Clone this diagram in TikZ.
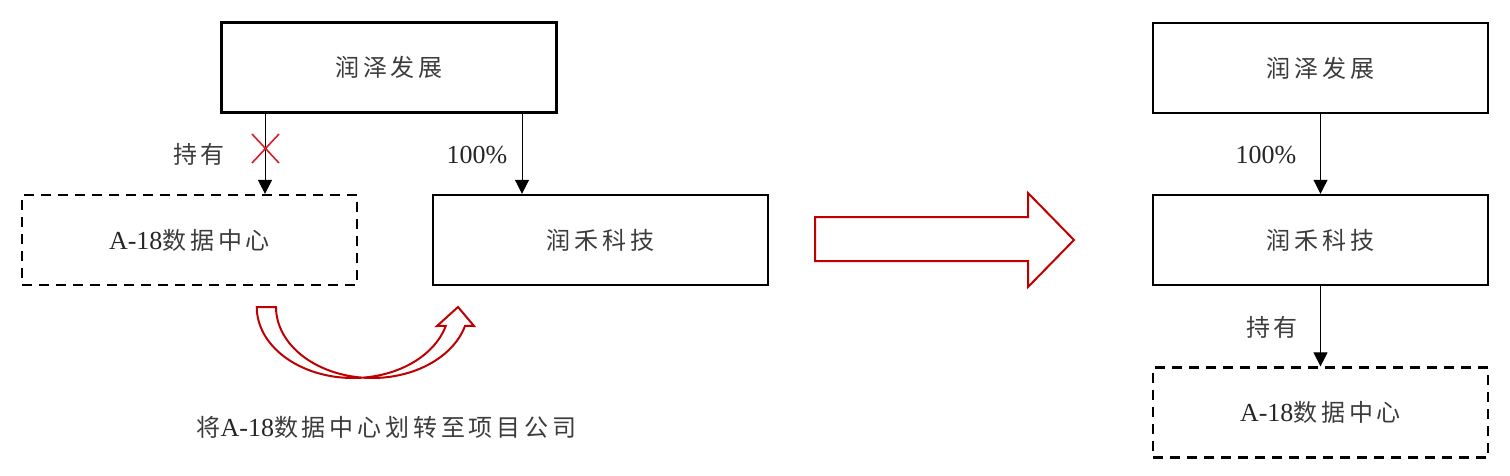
\documentclass[tikz,border=0pt]{standalone}
\usepackage{fontspec}
\setmainfont{Liberation Serif}
\newfontfamily\cjk[LetterSpace=16]{Noto Sans CJK SC}
\usetikzlibrary{arrows.meta}
\definecolor{arrred}{RGB}{192,0,0}
\definecolor{crossred}{RGB}{215,30,40}
\definecolor{txtgray}{RGB}{60,60,60}
\begin{document}
\begin{tikzpicture}[x=1pt,y=-1pt,
  box/.style={draw, line width=2.4pt, minimum width=335pt, minimum height=90pt, inner sep=0pt,
    font=\fontsize{24}{28}\selectfont\cjk, text=txtgray},
  dbox/.style={box, line width=2.2pt, dash pattern=on 10pt off 7pt},
  link/.style={line width=1pt, -{Triangle[width=14pt,length=14pt]}},
  lbl/.style={inner sep=0pt, font=\fontsize{24}{28}\selectfont\cjk, text=txtgray},
  num/.style={inner sep=0pt, font=\fontsize{26}{30}\selectfont, text=black!85},
  redshape/.style={draw=arrred, line width=2pt, line join=miter}]
\useasboundingbox (0,0) rectangle (1510,476);

% left group
\node[box] (ZL) at (389,67.5) {润泽发展};
\node[dbox] (AL) at (189.5,240) {{\rmfamily\fontsize{26}{30}\selectfont\color{black!85}A-18}数据中心};
\node[box] (RL) at (600.5,240) {润禾科技};
\coordinate (c1) at (265,0);
\coordinate (c2) at (522,0);
\draw[link] (ZL.south -| c1) -- (AL.north -| c1);
\draw[link] (ZL.south -| c2) -- (RL.north -| c2);
\node[lbl] (h1) at (199,154) {持有};
\node[num] (p1) at (477,155) {100\%};
\draw[crossred, line width=1.6pt] (252,134) -- (279,163) (252,163) -- (279,134);

% curved transfer arrow
\draw[redshape] plot[domain=180:15.5, samples=60, smooth] ({353+96.25*cos(\x)},{307+71*sin(\x)})
  -- (437,326) -- (458,307) -- (474,326)
  -- plot[domain=15.5:180, samples=60, smooth] ({372.25+96.25*cos(\x)},{307+71*sin(\x)}) -- cycle;
\node[lbl] (tr) at (386.5,427) {将{\rmfamily\fontsize{26}{30}\selectfont\color{black!85}A-18}数据中心划转至项目公司};

% big arrow
\draw[redshape] (815,217) -- (1028,217) -- (1028,193) -- (1074,240) -- (1028,287) -- (1028,261) -- (815,261) -- cycle;

% right group
\node[box] (ZR) at (1320.5,68) {润泽发展};
\node[box] (RR) at (1320.5,240) {润禾科技};
\node[dbox] (AR) at (1320.5,412.5) {{\rmfamily\fontsize{26}{30}\selectfont\color{black!85}A-18}数据中心};
\draw[link] (ZR.south) -- (RR.north);
\draw[link] (RR.south) -- (AR.north);
\node[num] (p2) at (1266,155) {100\%};
\node[lbl] (h2) at (1272,327) {持有};
\end{tikzpicture}
\end{document}
